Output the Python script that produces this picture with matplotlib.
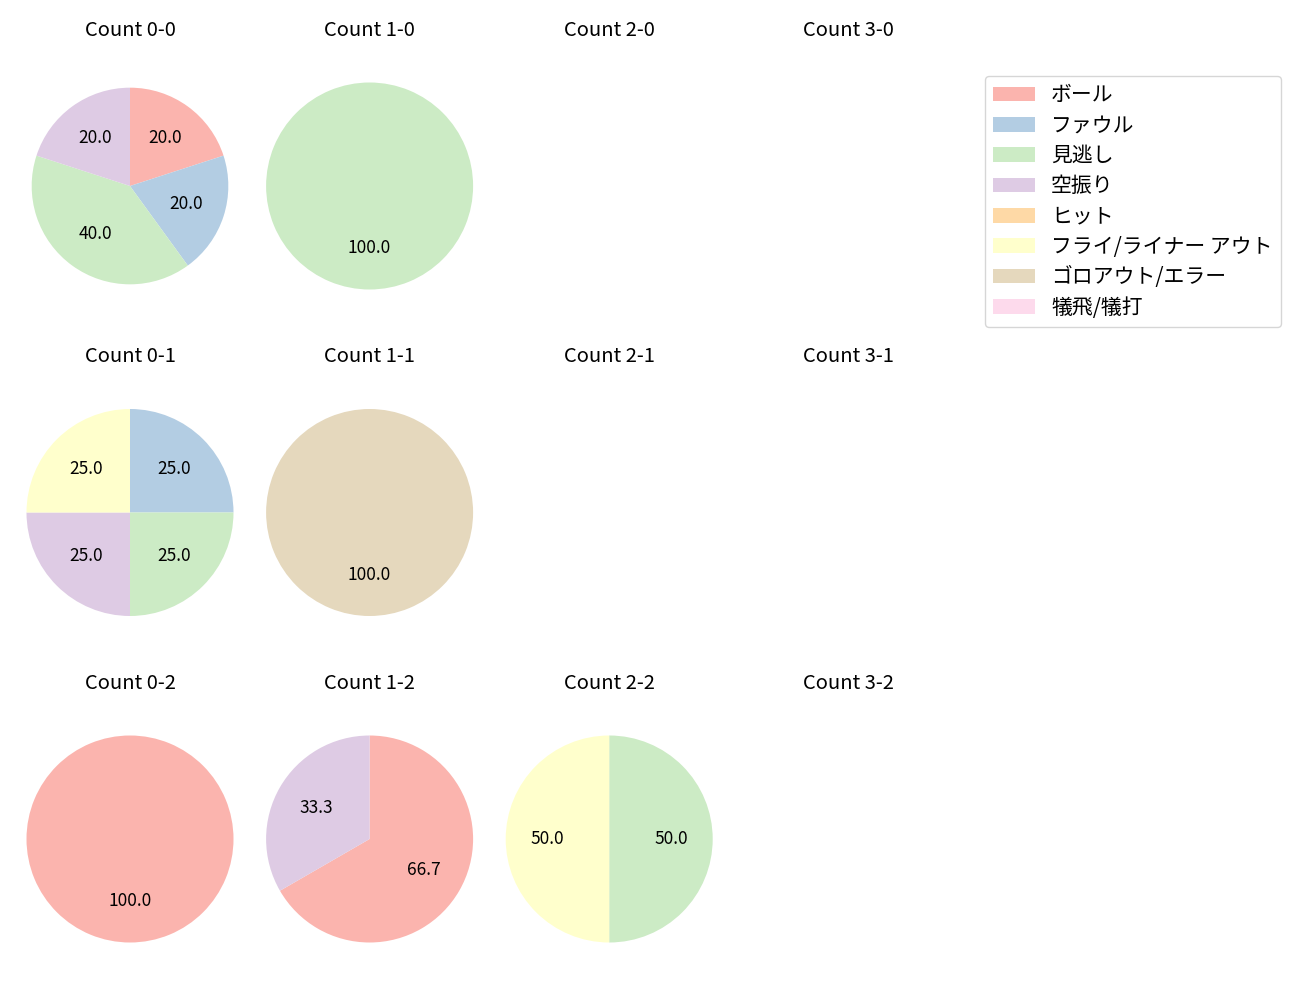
import matplotlib
matplotlib.use("Agg")
import matplotlib.pyplot as plt
from matplotlib.patches import Patch

plt.rcParams['font.family'] = ['Noto Sans CJK JP', 'DejaVu Sans']

# 球種の結果カテゴリ
categories = ['ボール', 'ファウル', '見逃し', '空振り', 'ヒット',
              'フライ/ライナー アウト', 'ゴロアウト/エラー', '犠飛/犠打']
colors = plt.cm.Pastel1.colors[:8]

balls = [0, 1, 2, 3]
strikes = [0, 1, 2]

# カウント別の件数 (categories の順)
count_0_0 = [1, 1, 2, 1, 0, 0, 0, 0]
count_1_0 = [0, 0, 1, 0, 0, 0, 0, 0]
count_2_0 = [0, 0, 0, 0, 0, 0, 0, 0]
count_3_0 = [0, 0, 0, 0, 0, 0, 0, 0]
count_0_1 = [0, 1, 1, 1, 0, 1, 0, 0]
count_1_1 = [0, 0, 0, 0, 0, 0, 1, 0]
count_2_1 = [0, 0, 0, 0, 0, 0, 0, 0]
count_3_1 = [0, 0, 0, 0, 0, 0, 0, 0]
count_0_2 = [1, 0, 0, 0, 0, 0, 0, 0]
count_1_2 = [2, 0, 0, 1, 0, 0, 0, 0]
count_2_2 = [0, 0, 1, 0, 0, 1, 0, 0]
count_3_2 = [0, 0, 0, 0, 0, 0, 0, 0]

data = {
    (0, 0): count_0_0, (1, 0): count_1_0, (2, 0): count_2_0, (3, 0): count_3_0,
    (0, 1): count_0_1, (1, 1): count_1_1, (2, 1): count_2_1, (3, 1): count_3_1,
    (0, 2): count_0_2, (1, 2): count_1_2, (2, 2): count_2_2, (3, 2): count_3_2,
}

fig = plt.figure(figsize=(13, 10), dpi=100)

# %%
side = 258.75
for s in strikes:
    for b in balls:
        cx = 130 + 239.6 * b
        cy = 186 + 326.5 * s
        ax = fig.add_axes([(cx - side / 2) / 1300, 1 - (cy + side / 2) / 1000,
                           side / 1300, side / 1000])
        ax.set_title(f'Count {b}-{s}', fontsize=14.5, pad=15)
        vals = data[(b, s)]
        v = [x for x in vals if x > 0]
        c = [col for x, col in zip(vals, colors) if x > 0]
        if v:
            ax.pie(v, colors=c, autopct='%.1f', startangle=90, counterclock=False,
                   radius=0.95 if (b, s) == (0, 0) else 1.0,
                   textprops={'fontsize': 12.5})
        else:
            ax.set_xlim(-1.25, 1.25)
            ax.set_ylim(-1.25, 1.25)
        ax.axis('off')

handles = [Patch(facecolor=col, label=lab) for col, lab in zip(colors, categories)]
fig.legend(handles=handles, loc='upper right', bbox_to_anchor=(1281 / 1300, 1 - 76 / 1000),
           borderaxespad=0, fontsize=15, labelspacing=0.4)

fig.savefig('out.png', dpi=100)
